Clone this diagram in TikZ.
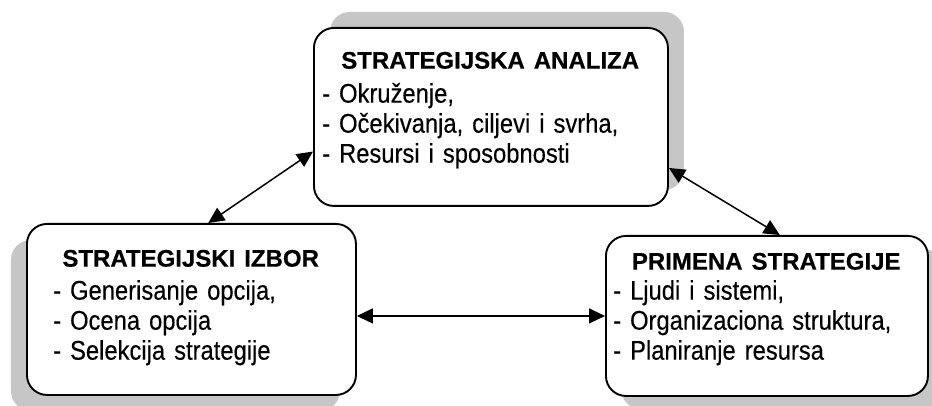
\documentclass[tikz,border=0pt]{standalone}
\usepackage{fontspec}
\setmainfont{Liberation Sans}[BoldFeatures={FakeBold=0.5}]
\newfontfamily\uzak[FakeStretch=0.88,FakeBold=0.3]{Liberation Sans}
\usetikzlibrary{arrows.meta,shadows}

\newcommand{\naslov}[1]{\makebox[\linewidth][c]{\rmfamily\bfseries\fontsize{24}{30}\selectfont #1}}

\tikzset{
    blok/.style={draw, line width=1.9pt, rounded corners=20pt, fill=white,
        inner sep=0pt, anchor=north west},
    tekst/.style={anchor=north west, inner sep=0pt, align=left,
        font=\uzak\fontsize{27}{30}\selectfont},
    veza/.style={<->, line width=1.5pt, >={Triangle[length=16pt,width=15pt]}}
}

\begin{document}
\begin{tikzpicture}[x=1pt, y=-1pt]
    \useasboundingbox (0,0) rectangle (932,406);

    % Boxes
    \node[blok, minimum width=354, minimum height=178,
        drop shadow={shadow xshift=16pt, shadow yshift=16pt, fill=gray!45, opacity=1}]
        (sa) at (313,27) {};
    \node[blok, minimum width=329, minimum height=171,
        drop shadow={shadow xshift=-16pt, shadow yshift=-16pt, fill=gray!45, opacity=1}]
        (si) at (26,223) {};
    \node[blok, minimum width=322, minimum height=160,
        drop shadow={shadow xshift=15pt, shadow yshift=-13pt, fill=gray!45, opacity=1}]
        (ps) at (605,235) {};

    % Texts
    \node[tekst, text width=336] (saT) at (322,51.7) {%
        \naslov{STRATEGIJSKA ANALIZA}\\[4pt]
        - Okruženje,\\
        - Očekivanja, ciljevi i svrha,\\
        - Resursi i sposobnosti};
    \node[tekst, text width=275] (siT) at (53,249.7) {%
        \naslov{STRATEGIJSKI IZBOR}\\[3pt]
        - Generisanje opcija,\\
        - Ocena opcija\\
        - Selekcija strategije};
    \node[tekst, text width=306] (psT) at (613,252.7) {%
        \naslov{PRIMENA STRATEGIJE}\\
        - Ljudi i sistemi,\\
        - Organizaciona struktura,\\
        - Planiranje resursa};

    % Arrows
    \draw[veza] (sa.191.7) -- (si.79);
    \draw[veza] (sa.344.2) -- (ps.81.5);
    \draw[veza] (si.east |- ps.west) -- (ps.west);
\end{tikzpicture}
\end{document}
